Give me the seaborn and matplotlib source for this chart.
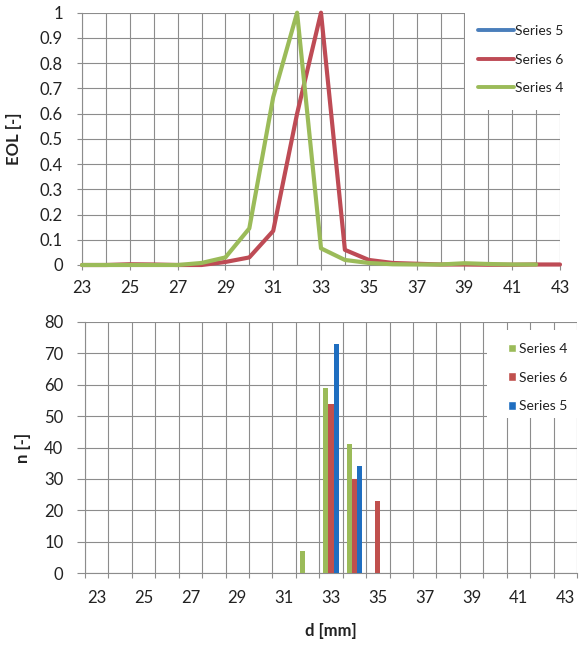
import matplotlib
matplotlib.use("Agg")
import matplotlib.pyplot as plt
from matplotlib.lines import Line2D
from matplotlib.patches import Patch, Rectangle
from matplotlib.ticker import FixedLocator, FuncFormatter
import seaborn as sns
import numpy as np
import pandas as pd

# x categories, d [mm]
d_mm = list(range(23, 44))

# top panel: EOL [-] per diameter
eol_series6 = [0, 0, 0.003, 0.002, 0, 0, 0.012, 0.03, 0.135, 0.6, 1.0,
               0.06, 0.02, 0.008, 0.005, 0.002, 0.002, 0.001, 0.001, 0.002, 0.002]
eol_series4 = [0, 0, 0, 0, 0, 0.008, 0.03, 0.145, 0.665, 1.0, 0.066,
               0.02, 0.008, 0.003, 0.002, 0.002, 0.007, 0.004, 0.002, 0.002, np.nan]

# bottom panel: counts n [-]
n4_d = [32, 33, 34]
n4 = [7, 59, 41]
n6_d = [33, 34, 35]
n6 = [54, 30, 23]
n5_d = [33, 34]
n5 = [73, 34]

LINE_COLORS = {"Series 5": "#4A7EBB", "Series 6": "#BE4B55", "Series 4": "#9BBB59"}
BAR_COLORS = {"Series 4": "#9BBB59", "Series 6": "#C0504D", "Series 5": "#1F6EC0"}
GRID = "#8c8c8c"
TXT = "#222222"

sns.set_theme(style="white")
plt.rcParams["font.family"] = ["Lato", "DejaVu Sans"]

W, H = 582, 648
fig = plt.figure(figsize=(W / 100, H / 100), dpi=100)

# ---- top: EOL lines ----
ax1 = fig.add_axes([82 / W, 1 - 265 / H, 478 / W, 252.3 / H])
eol_df = pd.concat([
    pd.DataFrame({"d": d_mm, "EOL": eol_series6, "series": "Series 6"}),
    pd.DataFrame({"d": d_mm, "EOL": eol_series4, "series": "Series 4"}),
], ignore_index=True)
sns.lineplot(data=eol_df, x="d", y="EOL", hue="series",
             hue_order=["Series 6", "Series 4"], palette=LINE_COLORS,
             linewidth=3.0, legend=False, ax=ax1, zorder=3)
for ln in ax1.get_lines():
    ln.set_solid_joinstyle("round")
    ln.set_clip_on(False)

ax1.set_xlim(23, 43)
ax1.set_ylim(0, 1)
ax1.xaxis.set_major_locator(FixedLocator(range(23, 44, 2)))
ax1.xaxis.set_minor_locator(FixedLocator(range(24, 43, 2)))
ax1.yaxis.set_major_locator(FixedLocator(np.round(np.arange(0, 1.01, 0.1), 1)))
ax1.yaxis.set_major_formatter(FuncFormatter(lambda v, p: f"{v:g}"))
ax1.grid(True, which="both", axis="x", color=GRID, linewidth=0.8)
ax1.grid(True, which="major", axis="y", color=GRID, linewidth=0.8)
ax1.tick_params(axis="x", which="major", length=3.6, width=0.8, color=GRID,
                direction="out", pad=7, labelsize=12, labelcolor=TXT, bottom=True)
ax1.tick_params(axis="x", which="minor", length=0)
ax1.tick_params(axis="y", length=3.6, width=0.8, color=GRID, direction="out",
                pad=10, labelsize=12, labelcolor=TXT, left=True)
ax1.set_xlabel("")
ax1.set_ylabel("EOL [-]", fontsize=12, fontweight="bold", color=TXT)
ax1.yaxis.set_label_coords(-0.125, 0.5)
for s in ["top", "right"]:
    ax1.spines[s].set_visible(False)
for s in ["left", "bottom"]:
    ax1.spines[s].set_color(GRID)
    ax1.spines[s].set_linewidth(0.8)

# ---- bottom: counts bars ----
ax2 = fig.add_axes([85 / W, 1 - 573 / H, 492 / W, 251 / H])
n_df = pd.concat([
    pd.DataFrame({"d": n4_d, "n": n4, "series": "Series 4"}),
    pd.DataFrame({"d": n6_d, "n": n6, "series": "Series 6"}),
    pd.DataFrame({"d": n5_d, "n": n5, "series": "Series 5"}),
], ignore_index=True)
sns.barplot(data=n_df, x="d", y="n", hue="series", order=d_mm,
            hue_order=["Series 4", "Series 6", "Series 5"], palette=BAR_COLORS,
            width=0.66, gap=0, saturation=1, errorbar=None, legend=False,
            linewidth=0, ax=ax2, zorder=3)

ax2.set_xlim(-0.5, len(d_mm) - 0.5)
ax2.set_ylim(0, 80)
ax2.xaxis.set_major_locator(FixedLocator(range(0, len(d_mm), 2)))
ax2.set_xticklabels([str(v) for v in d_mm[::2]])
ax2.xaxis.set_minor_locator(FixedLocator(np.arange(-0.5, len(d_mm), 1)))
ax2.yaxis.set_major_locator(FixedLocator(range(0, 81, 10)))
ax2.grid(True, which="minor", axis="x", color=GRID, linewidth=0.8)
ax2.grid(False, which="major", axis="x")
ax2.grid(True, which="major", axis="y", color=GRID, linewidth=0.8)
ax2.tick_params(axis="x", which="major", length=0, pad=12, labelsize=12,
                labelcolor=TXT)
ax2.tick_params(axis="x", which="minor", length=3.6, width=0.8, color=GRID,
                direction="out", bottom=True)
ax2.tick_params(axis="y", length=5.5, width=0.8, color=GRID, direction="out",
                pad=10, labelsize=12, labelcolor=TXT, left=True)
ax2.set_axisbelow(True)
ax2.set_xlabel("d [mm]", fontsize=12, fontweight="bold", color=TXT)
ax2.xaxis.set_label_coords(0.5, -0.2)
ax2.set_ylabel("n [-]", fontsize=12, fontweight="bold", color=TXT)
ax2.yaxis.set_label_coords(-0.11, 0.5)
for s in ["top", "right"]:
    ax2.spines[s].set_visible(False)
for s in ["left", "bottom"]:
    ax2.spines[s].set_color(GRID)
    ax2.spines[s].set_linewidth(0.8)

# ---- legends on white boxes ----
fig.add_artist(Rectangle((465 / W, 1 - 110 / H), 117 / W, 110 / H,
                         transform=fig.transFigure, facecolor="white",
                         edgecolor="none", zorder=2))
fig.add_artist(Rectangle((487 / W, 1 - 418 / H), 95 / W, 88 / H,
                         transform=fig.transFigure, facecolor="white",
                         edgecolor="none", zorder=2))

line_handles = [Line2D([], [], color=LINE_COLORS[k], linewidth=2.8)
                for k in ["Series 5", "Series 6", "Series 4"]]
fig.legend(line_handles, ["Series 5", "Series 6", "Series 4"],
           loc="upper left", bbox_to_anchor=(471 / W, 1 - 18 / H),
           frameon=False, borderpad=0, fontsize=10, handlelength=2.6,
           handletextpad=0.05, labelspacing=1.2, labelcolor=TXT)

bar_handles = [Patch(facecolor=BAR_COLORS[k]) for k in ["Series 4", "Series 6", "Series 5"]]
fig.legend(bar_handles, ["Series 4", "Series 6", "Series 5"],
           loc="upper left", bbox_to_anchor=(501 / W, 1 - 336 / H),
           frameon=False, borderpad=0, fontsize=10, handlelength=0.6,
           handleheight=0.6, handletextpad=0.2, labelspacing=1.2,
           labelcolor=TXT)

fig.savefig("out.png", dpi=100)
